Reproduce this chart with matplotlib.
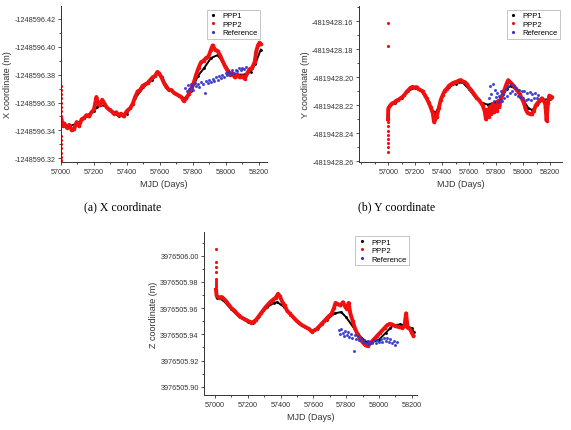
import matplotlib.pyplot as plt
from matplotlib.lines import Line2D
from matplotlib.ticker import FixedLocator, MultipleLocator, FuncFormatter

plt.rcParams['font.family'] = ['Liberation Sans', 'DejaVu Sans']

# ---------------- (a) X coordinate ----------------
# first-epoch PPP2 scatter (isolated dots)
xa_start_days = [57000] * 16
xa_start = [-1248596.372, -1248596.369, -1248596.366, -1248596.363, -1248596.360,
            -1248596.357, -1248596.354, -1248596.350, -1248596.336, -1248596.333,
            -1248596.330, -1248596.327, -1248596.324, -1248596.321, -1248596.319,
            -1248596.317]
xa_ppp2_days = [57003, 57010, 57020, 57035, 57050, 57065, 57080, 57095, 57110, 57125,
                57140, 57155, 57170, 57185, 57200, 57215, 57225, 57235, 57250, 57260,
                57275, 57290, 57305, 57320, 57335, 57350, 57365, 57380, 57400, 57420,
                57435, 57450, 57465, 57480, 57495, 57510, 57525, 57540, 57555, 57570,
                57585, 57595, 57610, 57625, 57640, 57655, 57670, 57685, 57700, 57715,
                57730, 57745, 57760, 57775, 57790, 57805, 57820, 57835, 57850, 57865,
                57880, 57895, 57910, 57920, 57935, 57950, 57965, 57980, 57995, 58010,
                58025, 58040, 58055, 58070, 58085, 58100, 58115, 58130, 58145, 58160,
                58175, 58185, 58195, 58205, 58212]
xa_ppp2 = [-1248596.348, -1248596.343, -1248596.345, -1248596.342, -1248596.344,
           -1248596.340, -1248596.341, -1248596.346, -1248596.343, -1248596.348,
           -1248596.349, -1248596.351, -1248596.350, -1248596.353, -1248596.355,
           -1248596.364, -1248596.359, -1248596.358, -1248596.362, -1248596.360,
           -1248596.357, -1248596.355, -1248596.354, -1248596.352, -1248596.353,
           -1248596.351, -1248596.352, -1248596.350, -1248596.354, -1248596.356,
           -1248596.359, -1248596.364, -1248596.368, -1248596.369, -1248596.372,
           -1248596.373, -1248596.374, -1248596.376, -1248596.378, -1248596.379,
           -1248596.382, -1248596.381, -1248596.378, -1248596.374, -1248596.371,
           -1248596.369, -1248596.369, -1248596.367, -1248596.366, -1248596.365,
           -1248596.364, -1248596.361, -1248596.363, -1248596.366, -1248596.370,
           -1248596.374, -1248596.380, -1248596.385, -1248596.389, -1248596.390,
           -1248596.392, -1248596.393, -1248596.398, -1248596.401, -1248596.398,
           -1248596.397, -1248596.394, -1248596.390, -1248596.386, -1248596.383,
           -1248596.380, -1248596.381, -1248596.378, -1248596.380, -1248596.378,
           -1248596.379, -1248596.377, -1248596.381, -1248596.384, -1248596.385,
           -1248596.389, -1248596.397, -1248596.401, -1248596.403, -1248596.402]
xa_ppp1_days = [57000, 57050, 57100, 57150, 57200, 57220, 57260, 57300, 57350, 57400,
                57450, 57500, 57550, 57590, 57620, 57660, 57700, 57750, 57790, 57830,
                57870, 57910, 57950, 57990, 58030, 58070, 58110, 58150, 58180, 58212]
xa_ppp1 = [-1248596.343, -1248596.343, -1248596.345, -1248596.350, -1248596.354,
           -1248596.357, -1248596.358, -1248596.355, -1248596.350, -1248596.352,
           -1248596.363, -1248596.371, -1248596.376, -1248596.381, -1248596.376,
           -1248596.369, -1248596.366, -1248596.363, -1248596.368, -1248596.379,
           -1248596.385, -1248596.392, -1248596.394, -1248596.388, -1248596.381,
           -1248596.380, -1248596.380, -1248596.382, -1248596.388, -1248596.398]
xa_ref_days = [57755, 57762, 57770, 57778, 57786, 57795, 57803, 57812, 57820, 57830,
               57840, 57850, 57860, 57871, 57880, 57890, 57900, 57910, 57920, 57930,
               57940, 57950, 57960, 57970, 57980, 57990, 58000, 58010, 58020, 58030,
               58040, 58050, 58060, 58070, 58080, 58090, 58100, 58110, 58120]
xa_ref = [-1248596.3705, -1248596.3680, -1248596.3725, -1248596.3700, -1248596.3735,
          -1248596.3710, -1248596.3690, -1248596.3740, -1248596.3720, -1248596.3735,
          -1248596.3710, -1248596.3750, -1248596.3730, -1248596.3670, -1248596.3755,
          -1248596.3740, -1248596.3765, -1248596.3745, -1248596.3770, -1248596.3755,
          -1248596.3780, -1248596.3765, -1248596.3790, -1248596.3775, -1248596.3800,
          -1248596.3785, -1248596.3810, -1248596.3795, -1248596.3820, -1248596.3805,
          -1248596.3830, -1248596.3815, -1248596.3835, -1248596.3825, -1248596.3845,
          -1248596.3830, -1248596.3850, -1248596.3840, -1248596.3855]

# ---------------- (b) Y coordinate ----------------
yb_start_days = [56995] * 12
yb_start = [-4819428.1612, -4819428.1777, -4819428.2536, -4819428.2500, -4819428.2470,
            -4819428.2440, -4819428.2410, -4819428.2380, -4819428.2350, -4819428.2320,
            -4819428.2290, -4819428.2260]
yb_ppp2_days = [56998, 57000, 57015, 57030, 57045, 57060, 57075, 57090, 57105, 57120,
                57135, 57150, 57165, 57180, 57195, 57210, 57225, 57240, 57255, 57270,
                57285, 57300, 57315, 57330, 57340, 57350, 57360, 57375, 57390, 57405,
                57420, 57435, 57450, 57465, 57480, 57495, 57510, 57525, 57540, 57555,
                57570, 57585, 57600, 57615, 57630, 57645, 57660, 57675, 57690, 57700,
                57715, 57725, 57735, 57745, 57755, 57765, 57775, 57785, 57795, 57805,
                57815, 57825, 57835, 57850, 57865, 57880, 57890, 57900, 57915, 57930,
                57945, 57960, 57975, 57990, 58005, 58020, 58035, 58050, 58065, 58080,
                58095, 58110, 58125, 58140, 58155, 58165, 58175, 58185, 58195, 58205,
                58212]
yb_ppp2 = [-4819428.2300, -4819428.2225, -4819428.2200, -4819428.2185, -4819428.2180,
           -4819428.2166, -4819428.2160, -4819428.2150, -4819428.2140, -4819428.2125,
           -4819428.2105, -4819428.2090, -4819428.2075, -4819428.2068, -4819428.2072,
           -4819428.2070, -4819428.2085, -4819428.2092, -4819428.2100, -4819428.2125,
           -4819428.2150, -4819428.2180, -4819428.2215, -4819428.2255, -4819428.2320,
           -4819428.2300, -4819428.2280, -4819428.2220, -4819428.2160, -4819428.2125,
           -4819428.2095, -4819428.2080, -4819428.2060, -4819428.2050, -4819428.2040,
           -4819428.2035, -4819428.2030, -4819428.2022, -4819428.2020, -4819428.2030,
           -4819428.2035, -4819428.2050, -4819428.2075, -4819428.2090, -4819428.2110,
           -4819428.2130, -4819428.2150, -4819428.2165, -4819428.2185, -4819428.2200,
           -4819428.2240, -4819428.2300, -4819428.2230, -4819428.2280, -4819428.2210,
           -4819428.2260, -4819428.2190, -4819428.2250, -4819428.2200, -4819428.2240,
           -4819428.2170, -4819428.2210, -4819428.2150, -4819428.2120, -4819428.2080,
           -4819428.2040, -4819428.2020, -4819428.2030, -4819428.2045, -4819428.2060,
           -4819428.2080, -4819428.2095, -4819428.2120, -4819428.2150, -4819428.2180,
           -4819428.2230, -4819428.2255, -4819428.2260, -4819428.2265, -4819428.2240,
           -4819428.2200, -4819428.2180, -4819428.2165, -4819428.2150, -4819428.2170,
           -4819428.2190, -4819428.2310, -4819428.2180, -4819428.2130, -4819428.2150,
           -4819428.2140]
yb_ppp1_days = [57000, 57050, 57100, 57150, 57200, 57250, 57300, 57330, 57345, 57370,
                57400, 57450, 57500, 57550, 57600, 57650, 57700, 57740, 57790, 57840,
                57880, 57910, 57950, 58000, 58040, 58070, 58100, 58150, 58200]
yb_ppp1 = [-4819428.2215, -4819428.2180, -4819428.2145, -4819428.2095, -4819428.2075,
           -4819428.2100, -4819428.2175, -4819428.2240, -4819428.2265, -4819428.2220,
           -4819428.2130, -4819428.2070, -4819428.2045, -4819428.2035, -4819428.2085,
           -4819428.2150, -4819428.2185, -4819428.2195, -4819428.2180, -4819428.2150,
           -4819428.2080, -4819428.2060, -4819428.2090, -4819428.2160, -4819428.2220,
           -4819428.2235, -4819428.2195, -4819428.2160, -4819428.2155]
yb_ref_days = [57750, 57758, 57766, 57774, 57782, 57790, 57798, 57806, 57814, 57822,
               57830, 57838, 57846, 57854, 57862, 57870, 57880, 57890, 57900, 57910,
               57920, 57930, 57940, 57950, 57960, 57970, 57980, 57990, 58000, 58010,
               58020, 58030, 58040, 58050, 58060, 58070, 58080, 58090, 58100, 58110]
yb_ref = [-4819428.2150, -4819428.2060, -4819428.2120, -4819428.2045, -4819428.2170,
          -4819428.2090, -4819428.2140, -4819428.2110, -4819428.2175, -4819428.2130,
          -4819428.2160, -4819428.2100, -4819428.2170, -4819428.2120, -4819428.2150,
          -4819428.2080, -4819428.2130, -4819428.2060, -4819428.2110, -4819428.2050,
          -4819428.2095, -4819428.2060, -4819428.2120, -4819428.2075, -4819428.2130,
          -4819428.2090, -4819428.2140, -4819428.2100, -4819428.2150, -4819428.2095,
          -4819428.2160, -4819428.2110, -4819428.2155, -4819428.2105, -4819428.2160,
          -4819428.2120, -4819428.2150, -4819428.2115, -4819428.2145, -4819428.2125]

# ---------------- (c) Z coordinate ----------------
zc_start_days = [57005] * 9
zc_start = [3976506.0051, 3976505.9954, 3976505.9911, 3976505.9878, 3976505.9822,
            3976505.9805, 3976505.9790, 3976505.9775, 3976505.9760]
zc_ppp2_days = [57006, 57010, 57025, 57040, 57055, 57070, 57085, 57100, 57115, 57130,
                57145, 57160, 57175, 57190, 57205, 57220, 57235, 57250, 57265, 57280,
                57295, 57310, 57325, 57340, 57355, 57370, 57385, 57395, 57410, 57425,
                57440, 57455, 57470, 57485, 57500, 57515, 57530, 57545, 57560, 57575,
                57590, 57605, 57620, 57635, 57650, 57665, 57680, 57695, 57710, 57725,
                57735, 57750, 57765, 57780, 57795, 57805, 57815, 57825, 57840, 57855,
                57870, 57885, 57900, 57915, 57930, 57945, 57960, 57975, 57990, 58005,
                58020, 58035, 58050, 58065, 58080, 58095, 58110, 58125, 58140, 58155,
                58165, 58175, 58190, 58200, 58210]
zc_ppp2 = [3976505.9740, 3976505.9695, 3976505.9680, 3976505.9685, 3976505.9670,
           3976505.9650, 3976505.9625, 3976505.9600, 3976505.9585, 3976505.9565,
           3976505.9545, 3976505.9530, 3976505.9520, 3976505.9510, 3976505.9500,
           3976505.9490, 3976505.9495, 3976505.9510, 3976505.9535, 3976505.9560,
           3976505.9585, 3976505.9610, 3976505.9630, 3976505.9650, 3976505.9665,
           3976505.9680, 3976505.9710, 3976505.9690, 3976505.9650, 3976505.9620,
           3976505.9580, 3976505.9560, 3976505.9540, 3976505.9520, 3976505.9500,
           3976505.9485, 3976505.9470, 3976505.9460, 3976505.9450, 3976505.9440,
           3976505.9420, 3976505.9430, 3976505.9440, 3976505.9460, 3976505.9480,
           3976505.9500, 3976505.9520, 3976505.9540, 3976505.9555, 3976505.9600,
           3976505.9640, 3976505.9630, 3976505.9620, 3976505.9645, 3976505.9610,
           3976505.9590, 3976505.9640, 3976505.9560, 3976505.9500, 3976505.9440,
           3976505.9400, 3976505.9365, 3976505.9340, 3976505.9320, 3976505.9310,
           3976505.9330, 3976505.9350, 3976505.9370, 3976505.9390, 3976505.9410,
           3976505.9430, 3976505.9450, 3976505.9470, 3976505.9480, 3976505.9475,
           3976505.9465, 3976505.9460, 3976505.9455, 3976505.9450, 3976505.9460,
           3976505.9560, 3976505.9450, 3976505.9440, 3976505.9410, 3976505.9390]
zc_ppp1_days = [57010, 57050, 57100, 57150, 57200, 57230, 57270, 57320, 57360, 57380,
                57420, 57460, 57500, 57550, 57590, 57630, 57680, 57730, 57770, 57800,
                57840, 57880, 57920, 57960, 58000, 58040, 58070, 58090, 58130, 58170,
                58200, 58212]
zc_ppp1 = [3976505.9680, 3976505.9660, 3976505.9590, 3976505.9530, 3976505.9495,
           3976505.9490, 3976505.9540, 3976505.9610, 3976505.9640, 3976505.9645,
           3976505.9610, 3976505.9550, 3976505.9500, 3976505.9455, 3976505.9425,
           3976505.9450, 3976505.9510, 3976505.9560, 3976505.9570, 3976505.9530,
           3976505.9460, 3976505.9390, 3976505.9345, 3976505.9340, 3976505.9360,
           3976505.9410, 3976505.9450, 3976505.9470, 3976505.9475, 3976505.9465,
           3976505.9445, 3976505.9420]
zc_ref_days = [57755, 57762, 57770, 57778, 57786, 57795, 57803, 57812, 57820, 57830,
               57838, 57845, 57852, 57860, 57870, 57880, 57890, 57900, 57910, 57920,
               57930, 57940, 57950, 57960, 57970, 57980, 57990, 58000, 58010, 58020,
               58030, 58040, 58050, 58060, 58070, 58080, 58090, 58100, 58110]
zc_ref = [3976505.9430, 3976505.9400, 3976505.9440, 3976505.9410, 3976505.9385,
          3976505.9425, 3976505.9395, 3976505.9415, 3976505.9380, 3976505.9405,
          3976505.9375, 3976505.9275, 3976505.9395, 3976505.9365, 3976505.9385,
          3976505.9355, 3976505.9370, 3976505.9340, 3976505.9360, 3976505.9330,
          3976505.9350, 3976505.9325, 3976505.9345, 3976505.9330, 3976505.9355,
          3976505.9335, 3976505.9360, 3976505.9340, 3976505.9365, 3976505.9345,
          3976505.9370, 3976505.9350, 3976505.9375, 3976505.9340, 3976505.9365,
          3976505.9330, 3976505.9350, 3976505.9320, 3976505.9340]

x_ticks = [57000, 57200, 57400, 57600, 57800, 58000, 58200]

RED = '#f01010'
BLUE = '#3333cc'
TXT = '#333333'


def draw_panel(ax, ppp1, ppp2, start, ref, ylabel, xlim, ylim, yticks, legend_anchor):
    ax.plot(ppp1[0], ppp1[1], color='black', lw=1.4, marker='.', ms=2)
    ax.plot(ppp2[0], ppp2[1], color=RED, lw=2.8, marker='.', ms=3)
    ax.plot(start[0], start[1], ls='none', color=RED, marker='.', ms=2.5)
    ax.plot(ref[0], ref[1], ls='none', color=BLUE, marker='.', ms=2.5, alpha=0.8)

    ax.set_xlim(*xlim)
    ax.set_ylim(*ylim)
    ax.xaxis.set_major_locator(FixedLocator(x_ticks))
    ax.xaxis.set_minor_locator(MultipleLocator(100))
    ax.yaxis.set_major_locator(FixedLocator(yticks))
    ax.yaxis.set_minor_locator(MultipleLocator(0.01))
    ax.yaxis.set_major_formatter(FuncFormatter(lambda v, _: f'{v:.2f}'))
    ax.tick_params(labelsize=5.2, color=TXT, labelcolor=TXT, width=0.6, pad=1.5)
    ax.tick_params(which='major', length=2.5)
    ax.tick_params(which='minor', length=1.5, width=0.5)
    for s in ['top', 'right']:
        ax.spines[s].set_visible(False)
    for s in ['left', 'bottom']:
        ax.spines[s].set_linewidth(0.7)
        ax.spines[s].set_color(TXT)
    ax.set_xlabel('MJD (Days)', fontsize=6.5, color=TXT, labelpad=3)
    ax.set_ylabel(ylabel, fontsize=6.5, color=TXT, labelpad=1.5)

    handles = [Line2D([], [], ls='none', marker='.', ms=2.5, color=c)
               for c in ['black', RED, BLUE]]
    leg = ax.legend(handles, ['PPP1', 'PPP2', 'Reference'], loc='upper right',
                    bbox_to_anchor=legend_anchor, fontsize=5.5, frameon=True,
                    fancybox=False, handlelength=1.2, handletextpad=0.6,
                    labelspacing=0.15, borderpad=0.3)
    leg.get_frame().set_edgecolor('#aaaaaa')
    leg.get_frame().set_linewidth(0.6)


fig = plt.figure(figsize=(5.71, 4.31), dpi=100)
ax_a = fig.add_axes([0.1068, 0.6218, 0.3608, 0.362])
ax_b = fig.add_axes([0.6287, 0.6218, 0.3555, 0.362])
ax_c = fig.add_axes([0.3578, 0.0812, 0.372, 0.378])

draw_panel(ax_a, (xa_ppp1_days, xa_ppp1), (xa_ppp2_days, xa_ppp2),
           (xa_start_days, xa_start), (xa_ref_days, xa_ref),
           'X coordinate (m)', (57000, 58250), (-1248596.3173, -1248596.4293),
           [-1248596.42, -1248596.40, -1248596.38, -1248596.36, -1248596.34, -1248596.32],
           (0.985, 1.0))
draw_panel(ax_b, (yb_ppp1_days, yb_ppp1), (yb_ppp2_days, yb_ppp2),
           (yb_start_days, yb_start), (yb_ref_days, yb_ref),
           'Y coordinate (m)', (56783, 58289), (-4819428.2605, -4819428.149),
           [-4819428.16, -4819428.18, -4819428.20, -4819428.22, -4819428.24, -4819428.26],
           (1.01, 1.0))
draw_panel(ax_c, (zc_ppp1_days, zc_ppp1), (zc_ppp2_days, zc_ppp2),
           (zc_start_days, zc_start), (zc_ref_days, zc_ref),
           'Z coordinate (m)', (56935, 58230), (3976505.8937, 3976506.018),
           [3976505.90, 3976505.92, 3976505.94, 3976505.96, 3976505.98, 3976506.00],
           (0.98, 1.0))

fig.text(123 / 571, 1 - 207 / 431, '(a) X coordinate', family='Liberation Serif',
         fontsize=8.5, ha='center', va='center')
fig.text(397 / 571, 1 - 207 / 431, '(b) Y coordinate', family='Liberation Serif',
         fontsize=8.5, ha='center', va='center')

fig.savefig('out.png', dpi=100)
